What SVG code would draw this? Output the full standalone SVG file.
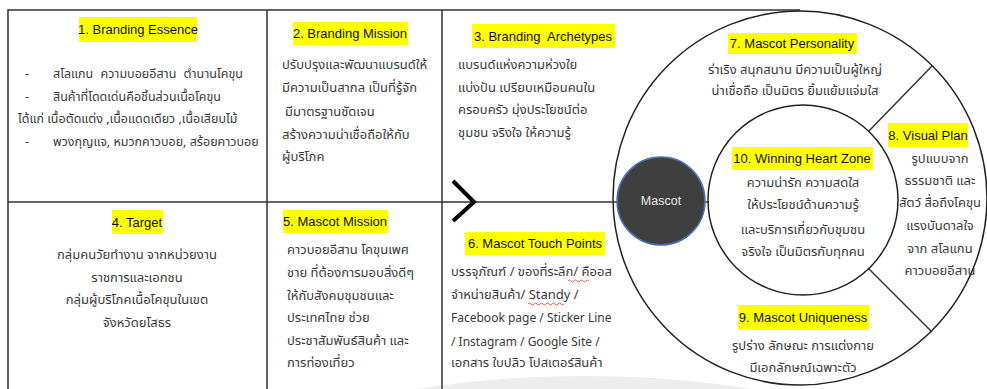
<svg xmlns="http://www.w3.org/2000/svg" width="987" height="389" viewBox="0 0 987 389">
<style>
.t{font-family:"Liberation Sans","Noto Sans",sans-serif;font-size:13px;fill:#111}
.b{font-family:"Noto Sans","Noto Sans Thai","Liberation Sans",sans-serif;font-size:13px;fill:#3a3a3a}
.s{font-size:12.5px}
.l{font-size:12px}
.c{text-anchor:middle}
.hl{fill:#ffff00}
.ln{stroke:#333;stroke-width:1.5;fill:none}
.cl{stroke:#222;stroke-width:1.5;fill:#fff}
</style>
<rect width="987" height="389" fill="#fff"/>
<ellipse cx="585" cy="470" rx="330" ry="94" fill="#ededed"/>
<g id="frame">
<path class="ln" d="M8,389 V10 H800 M267,10 V389 M442,10 V389 M8,202 H620"/>
</g>
<g id="n1">
<rect class="hl" x="79" y="17" width="118" height="25"/>
<text class="t" x="138" y="34" text-anchor="middle">1. Branding Essence</text>
<text class="b s" x="25" y="78">-</text><text class="b s" x="53" y="78" word-spacing="4">สโลแกน ความบอยอีสาน ตำนานโคขุน</text>
<text class="b s" x="25" y="101">-</text><text class="b s" x="53" y="101">สินค้าที่โดดเด่นคือชิ้นส่วนเนื้อโคขุน</text>
<text class="b s" x="18" y="123">ได้แก่ เนื้อตัดแต่ง ,เนื้อแดดเดียว ,เนื้อเสียบไม้</text>
<text class="b s" x="25" y="146">-</text><text class="b s" x="53" y="146">พวงกุญแจ, หมวกคาวบอย, สร้อยคาวบอย</text>
</g>
<g id="n2">
<rect class="hl" x="293" y="22" width="115" height="23"/>
<text class="t" x="350" y="38" text-anchor="middle">2. Branding Mission</text>
<text class="b" x="282" y="69">ปรับปรุงและพัฒนาแบรนด์ให้</text>
<text class="b" x="282" y="92">มีความเป็นสากล เป็นที่รู้จัก</text>
<text class="b" x="285" y="116">มีมาตรฐานชัดเจน</text>
<text class="b" x="282" y="139">สร้างความน่าเชื่อถือให้กับ</text>
<text class="b" x="282" y="161">ผู้บริโภค</text>
</g>
<g id="n3">
<rect class="hl" x="472" y="24" width="143" height="24"/>
<text class="t" x="543" y="41" text-anchor="middle" xml:space="preserve">3. Branding  Archetypes</text>
<text class="b" x="458" y="69">แบรนด์แห่งความห่วงใย</text>
<text class="b" x="458" y="92">แบ่งปัน เปรียบเหมือนคนใน</text>
<text class="b" x="458" y="114">ครอบครัว มุ่งประโยชน์ต่อ</text>
<text class="b" x="458" y="137">ชุมชน จริงใจ ให้ความรู้</text>
</g>
<g id="n4">
<rect class="hl" x="112" y="210" width="51" height="24"/>
<text class="t" x="137" y="227" text-anchor="middle">4. Target</text>
<text class="b c" x="137" y="259">กลุ่มคนวัยทำงาน จากหน่วยงาน</text>
<text class="b c" x="137" y="282">ราชการและเอกชน</text>
<text class="b c" x="137" y="304">กลุ่มผู้บริโภคเนื้อโคขุนในเขต</text>
<text class="b c" x="137" y="327">จังหวัดยโสธร</text>
</g>
<g id="n5">
<rect class="hl" x="283" y="210" width="105" height="23"/>
<text class="t" x="335" y="226" text-anchor="middle">5. Mascot Mission</text>
<text class="b" x="287" y="254">คาวบอยอีสาน โคขุนเพศ</text>
<text class="b" x="287" y="277">ชาย ที่ต้องการมอบสิ่งดีๆ</text>
<text class="b" x="287" y="300">ให้กับสังคมชุมชนและ</text>
<text class="b" x="287" y="322">ประเทศไทย ช่วย</text>
<text class="b" x="287" y="345">ประชาสัมพันธ์สินค้า และ</text>
<text class="b" x="287" y="367">การท่องเที่ยว</text>
</g>
<g id="n6">
<rect class="hl" x="465" y="232" width="140" height="23"/>
<text class="t" x="535" y="248" text-anchor="middle">6. Mascot Touch Points</text>
<text class="b" x="451" y="276">บรรจุภัณฑ์ / ของที่ระลึก/ คืออส</text>
<text class="b" x="451" y="299">จำหน่ายสินค้า/ Standy /</text>
<text class="b l" x="451" y="322">Facebook page / Sticker Line</text>
<text class="b l" x="451" y="346">/ Instagram / Google Site /</text>
<text class="b" x="451" y="367">เอกสาร ใบปลิว โปสเตอร์สินค้า</text>
</g>
<g id="circles">
<circle class="cl" cx="800" cy="198" r="187"/>
<path class="ln" d="M867,133 L932,66 M867,267 L932,332"/>
<circle class="cl" cx="803" cy="200" r="95"/>
</g>
<g id="connectors">
<path class="ln" d="M613,202 H620 M705,202 H709"/>
<path d="M453,181 L474,202 L453,221" fill="none" stroke="#000" stroke-width="4"/>
<path d="M568,281 q1.5,-2 3,0 t3,0 t3,0 t3,0 t3,0 t3,0 t3,0 M528,304 q1.5,-2 3,0 t3,0 t3,0 t3,0 t3,0 t3,0 t3,0 t3,0 t3,0 t3,0 t3,0 t3,0" fill="none" stroke="#e03030" stroke-width="0.8"/>
</g>
<g id="n7">
<rect class="hl" x="728" y="33" width="129" height="21"/>
<text class="t" x="792" y="48" text-anchor="middle">7. Mascot Personality</text>
<text class="b c" x="795" y="74">ร่าเริง สนุกสนาน มีความเป็นผู้ใหญ่</text>
<text class="b c" x="795" y="95">น่าเชื่อถือ เป็นมิตร ยิ้มแย้มแจ่มใส</text>
</g>
<g id="n8">
<rect class="hl" x="888" y="123" width="80" height="24"/>
<text class="t" x="928" y="140" text-anchor="middle">8. Visual Plan</text>
<text class="b c" x="940" y="163">รูปแบบจาก</text>
<text class="b c" x="940" y="185">ธรรมชาติ และ</text>
<text class="b c" x="940" y="207">สัตว์ สื่อถึงโคขุน</text>
<text class="b c" x="940" y="230">แรงบันดาลใจ</text>
<text class="b c" x="940" y="253">จาก สโลแกน</text>
<text class="b c" x="940" y="275">คาวบอยอีสาน</text>
</g>
<g id="n10">
<rect class="hl" x="732" y="147" width="141" height="23"/>
<text class="t" x="802" y="163" text-anchor="middle">10. Winning Heart Zone</text>
<text class="b c" x="803" y="187">ความน่ารัก ความสดใส</text>
<text class="b c" x="803" y="209">ให้ประโยชน์ด้านความรู้</text>
<text class="b c" x="803" y="234">และบริการเกี่ยวกับชุมชน</text>
<text class="b c" x="803" y="256">จริงใจ เป็นมิตรกับทุกคน</text>
</g>
<g id="n9">
<rect class="hl" x="738" y="305" width="131" height="25"/>
<text class="t" x="803" y="322" text-anchor="middle">9. Mascot Uniqueness</text>
<text class="b c" x="803" y="350">รูปร่าง ลักษณะ การแต่งกาย</text>
<text class="b c" x="803" y="372">มีเอกลักษณ์เฉพาะตัว</text>
</g>
<g id="mascot">
<circle cx="661" cy="201" r="44" fill="#3f3f3f" stroke="#4a6fb5" stroke-width="1.5"/>
<text class="t c" x="661" y="205" style="fill:#e8e8e8;font-size:12.5px">Mascot</text>
</g>
</svg>
